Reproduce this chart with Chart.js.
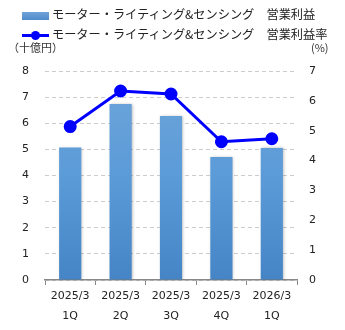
<!DOCTYPE html>
<html lang="ja">
<head>
  <meta charset="UTF-8">
  <title>モーター・ライティング&センシング 営業利益</title>
  <script src="https://cdn.jsdelivr.net/npm/chart.js@4.4.1/dist/chart.umd.min.js"></script>
  <style>
    body { margin: 0; background: #fff; font-family: 'Noto Sans CJK JP', sans-serif; }
    #wrap { position: relative; width: 345px; height: 330px; }
    #chart { position: absolute; left: 0; top: 0; }
    .lg { position: absolute; left: 22px; font-size: 12.2px; color: #222; white-space: pre; line-height: 14px; }
    .lg .sw { display: inline-block; vertical-align: middle; width: 27px; margin-right: 3px; position: relative; }
    .sw.bar { height: 8px; background: linear-gradient(#6fa3d8, #4f8ccb); }
    .sw.line { height: 3px; background: #0000ff; }
    .sw.line::after { content: ''; position: absolute; left: 9px; top: -3px; width: 9px; height: 9px; border-radius: 50%; background: #0000ff; }
    .unit { position: absolute; top: 39px; font-size: 11px; color: #333; }
  </style>
</head>
<body>
  <div id="wrap">
    <canvas id="chart" width="345" height="330"></canvas>
    <div class="lg" style="top: 7px;"><span class="sw bar"></span>モーター・ライティング&センシング　営業利益</div>
    <div class="lg" style="top: 27px;"><span class="sw line"></span>モーター・ライティング&センシング　営業利益率</div>
    <div class="unit" style="left: 8px;">（十億円）</div>
    <div class="unit" style="left: 311px;">(%)</div>
  </div>

  <script>
    // 四半期ラベル
    const quarters = [['2025/3', '1Q'], ['2025/3', '2Q'], ['2025/3', '3Q'], ['2025/3', '4Q'], ['2026/3', '1Q']];
    // 営業利益 (十億円)
    const profit = [5.07, 6.74, 6.28, 4.71, 5.05];
    // 営業利益率 (%)
    const margin = [5.14, 6.33, 6.23, 4.63, 4.73];

    const numFont = { family: 'DejaVu Sans', size: 11 };

    // 棒グラフにだけ影をつける
    const barShadow = {
      id: 'barShadow',
      beforeDatasetDraw(chart, args) {
        if (args.meta.type !== 'bar') return;
        const c = chart.ctx;
        c.save();
        c.shadowColor = 'rgba(0,0,0,0.3)';
        c.shadowBlur = 3;
        c.shadowOffsetX = 1;
      },
      afterDatasetDraw(chart, args) {
        if (args.meta.type !== 'bar') return;
        chart.ctx.restore();
      }
    };

    new Chart(document.getElementById('chart'), {
      data: {
        labels: quarters,
        datasets: [{
          type: 'line',
          label: 'モーター・ライティング&センシング　営業利益率',
          data: margin,
          yAxisID: 'y1',
          borderColor: '#0000ff',
          backgroundColor: '#0000ff',
          borderWidth: 3,
          pointRadius: 5,
          pointBackgroundColor: '#0000ff',
          tension: 0,
          order: 0
        }, {
          type: 'bar',
          label: 'モーター・ライティング&センシング　営業利益',
          data: profit,
          yAxisID: 'y',
          backgroundColor: function(context) {
            const area = context.chart.chartArea;
            if (!area) return '#5b9bd5';
            const g = context.chart.ctx.createLinearGradient(0, area.top, 0, area.bottom);
            g.addColorStop(0, '#6fa5da');
            g.addColorStop(0.5, '#5b9bd8');
            g.addColorStop(1, '#4585c6');
            return g;
          },
          barPercentage: 0.44,
          categoryPercentage: 1,
          order: 1
        }]
      },
      options: {
        responsive: false,
        animation: false,
        layout: { padding: { top: 71, left: 0, right: 0, bottom: 0 } },
        plugins: {
          legend: { display: false },
          tooltip: { enabled: false }
        },
        scales: {
          x: {
            offset: true,
            grid: { display: true, drawOnChartArea: false, drawTicks: true, tickLength: 5, color: '#888', offset: true },
            border: { display: true, color: '#888', width: 1.5 },
            ticks: { color: '#222', font: { family: 'DejaVu Sans', size: 11, lineHeight: 1.85 }, padding: 1, maxRotation: 0 },
            afterFit(s) { s.height = 50; }
          },
          y: {
            position: 'left',
            min: 0,
            max: 8,
            ticks: { stepSize: 1, color: '#222', font: numFont, padding: 16 },
            grid: { color: '#cccccc', drawTicks: false },
            border: { display: false, dash: [4, 3] },
            afterFit(s) { s.width = 45; }
          },
          y1: {
            position: 'right',
            min: 0,
            max: 7,
            ticks: { stepSize: 1, color: '#222', font: numFont, padding: 12 },
            grid: { display: false, drawTicks: false },
            border: { display: false },
            afterFit(s) { s.width = 48; }
          }
        }
      },
      plugins: [barShadow]
    });
  </script>
</body>
</html>
